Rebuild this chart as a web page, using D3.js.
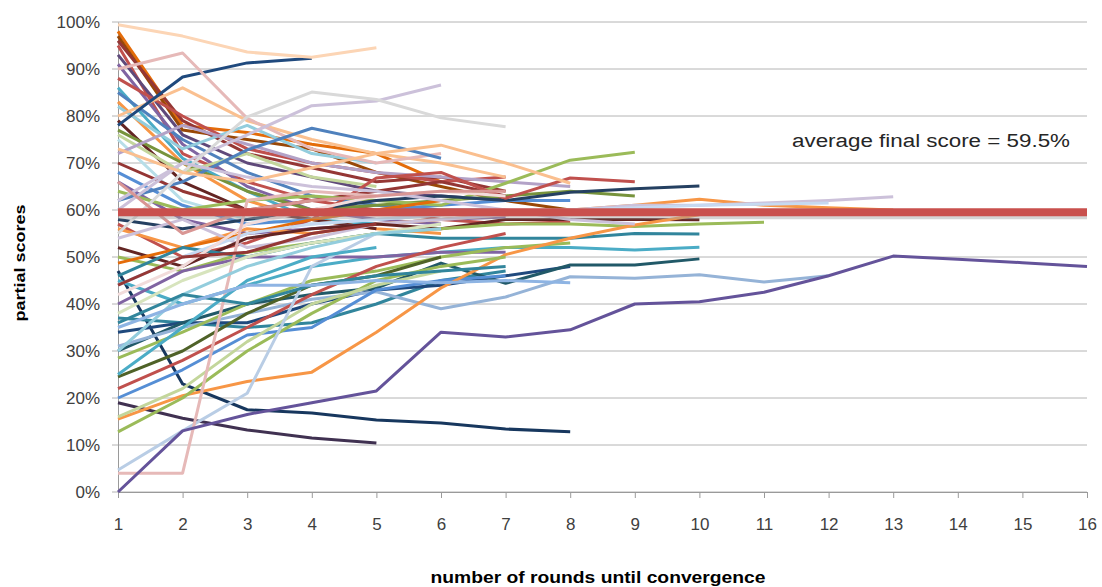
<!DOCTYPE html>
<html>
<head>
<meta charset="utf-8">
<script src="https://cdn.jsdelivr.net/npm/d3@7"></script>
<style>
  body { margin: 0; background: #fff; }
  text { font-family: "Liberation Sans", Arial, sans-serif; }
</style>
</head>
<body>
<svg id="chart" width="1102" height="587"></svg>
<script>
// round numbers on the x axis
const roundLabels = [1, 2, 3, 4, 5, 6, 7, 8, 9, 10, 11, 12, 13, 14, 15, 16];
const yTicks = [0, 10, 20, 30, 40, 50, 60, 70, 80, 90, 100];
const averageFinal = 59.5;

// partial score (%) of each run, one value per round until it converged
const runs = [
  [98, 78, 76.5, 74, 72, 66],
  [97, 77, 75, 73, 68, 65, 62, 60],
  [96, 79, 72, 69, 66, 67, 64],
  [95, 72, 66, 62, 60, 58, 57, 57.5],
  [93, 76, 70, 67, 64, 63, 62],
  [91, 74, 65, 60, 58, 57],
  [88, 80, 73, 70, 68, 66, 67],
  [86, 71, 64, 58, 57],
  [85, 75, 68, 63, 61, 60, 60],
  [83, 70, 62, 58, 56, 55],
  [82, 73, 78, 72, 70],
  [80, 86, 79, 75, 72, 70, 67],
  [79, 66, 60, 58, 56],
  [78, 88.3, 91.3, 92.3],
  [77, 70, 64, 60, 61, 62, 63, 64, 63],
  [76, 68, 72, 67, 65],
  [75, 62, 58, 57, 58, 59],
  [90, 93.4, 79.5, 73, 70, 72],
  [99.4, 97, 93.6, 92.5, 94.5],
  [72, 78, 74, 70, 68, 67, 66, 65],
  [70, 64, 60, 62, 64, 66, 63],
  [68, 61, 57, 58, 60, 61, 62, 62],
  [66, 58, 55, 56, 57, 58, 58.5],
  [64, 60, 62, 63, 62, 61, 65.7, 70.6, 72.3],
  [62, 66, 72.8, 77.4, 74.5, 71],
  [60, 70, 76, 82.2, 83.2, 86.6],
  [58, 56, 58, 60, 62, 63, 62, 63.8, 64.5, 65.1],
  [57, 50, 53, 58, 66.8, 68, 62.5, 66.8, 66],
  [56, 52, 56, 55, 57, 58, 59, 60, 61, 62.3, 61, 60.5, 60],
  [55, 68, 79.8, 85.1, 83.5, 79.6, 77.7],
  [54, 58, 52, 54, 57, 58, 59, 60, 61, 61, 61.5, 62, 62.8],
  [52, 48, 54, 56, 57, 56, 58, 58, 58, 57.9],
  [50, 47, 51, 53, 55, 56, 57, 57, 56.5, 57, 57.4],
  [48.7, 52, 55, 58, 60, 62],
  [47, 23, 17.5, 16.8, 15.3, 14.7, 13.4, 12.8],
  [46, 52, 50, 53, 55, 54, 54, 54, 55, 54.9],
  [45, 40, 44, 48, 50, 51, 52, 52, 51.5, 52.1],
  [44, 50, 55, 57, 58, 59, 60, 60, 60.5, 61, 61.2, 61.5],
  [42, 48, 57, 60, 63, 64, 63],
  [40, 47, 50, 50, 50, 51, 51],
  [38, 45, 50, 53, 55, 57],
  [37, 36, 35, 36, 40, 45, 47],
  [34, 36, 36, 40, 43, 44, 46, 48],
  [30, 36, 40, 42, 43.4, 48.7, 44.4, 48.3, 48.3, 49.6],
  [31, 35, 38, 41, 42.6, 39, 41.5, 45.8, 45.5, 46.2, 44.7, 46],
  [28.5, 34, 40, 45, 47, 50, 52, 53],
  [24.5, 30, 38, 44, 46, 50],
  [22, 28, 35, 42, 48, 52, 55],
  [19, 15.7, 13.2, 11.5, 10.4],
  [20, 26, 33.4, 35, 43, 45, 46],
  [15.5, 20.5, 23.5, 25.5, 34, 43.4, 50.5, 54, 56.8, 59],
  [12.8, 20, 30, 38, 45, 48, 50],
  [16, 22, 32, 40, 44, 47],
  [4.7, 13, 21, 48, 55],
  [4, 4, 62, 64, 63],
  [0, 13, 16.5, 19, 21.5, 34, 33, 34.5, 40, 40.5, 42.5, 46, 50.2, 49.5, 48.8, 48],
  [25, 35, 45, 50, 52],
  [30, 42, 48, 52, 55, 56],
  [36, 42, 40, 44, 46, 47, 48],
  [44, 50, 51, 55, 57],
  [62, 70, 67, 65, 64, 62, 60, 58, 57],
  [35, 40, 44, 44, 45, 44.5, 45, 44.5],
  [73, 68, 66, 69, 72, 73.8, 70, 65.7],
  [66, 55, 60, 62, 63, 64, 64]
];

const runColors = [
  "#e46c0a", "#984807", "#953735", "#c0504d", "#5f497a", "#8064a2", "#c0504d", "#4bacc6",
  "#4f81bd", "#f79646", "#93cddd", "#fac090", "#632523", "#1f497d", "#77933c", "#c3d69b",
  "#b7dee8", "#e6b9b8", "#fcd5b5", "#b3a2c7", "#943634", "#558ed5", "#8064a2", "#9bbb59",
  "#4f81bd", "#ccc1da", "#254061", "#c0504d", "#f79646", "#d9d9d9", "#ccc1da", "#632523",
  "#9bbb59", "#e46c0a", "#17375e", "#31859c", "#4bacc6", "#c6d9f1", "#f2dcdb", "#8064a2",
  "#d7e4bd", "#31859c", "#1f497d", "#215968", "#95b3d7", "#9bbb59", "#4f6228", "#c0504d",
  "#403151", "#558ed5", "#f79646", "#9bbb59", "#c3d69b", "#b9cde5", "#e6b9b8", "#64539a",
  "#4bacc6", "#93cddd", "#31859c", "#953735", "#ccc1da", "#8eb4e3", "#fabf8f", "#d99694"
];

const svg = d3.select("#chart");

const x = d3.scalePoint().domain(roundLabels).range([118, 1087]);
const y = d3.scaleLinear().domain([0, 100]).range([492, 22]);

// horizontal gridlines
svg.append("g")
  .selectAll("line")
  .data(yTicks)
  .enter()
  .append("line")
  .attr("x1", 112)
  .attr("x2", 1087)
  .attr("y1", d => y(d))
  .attr("y2", d => y(d))
  .attr("stroke", "#b4b4b4")
  .attr("stroke-width", 1);

// y axis
const yAxis = svg.append("g")
  .attr("transform", "translate(118,0)")
  .call(d3.axisLeft(y).tickValues(yTicks).tickFormat(d => d + "%").tickSize(0).tickPadding(18));
yAxis.select(".domain").attr("stroke", "#9a9a9a");
yAxis.selectAll("text")
  .style("font-family", "Liberation Sans, Arial, sans-serif")
  .style("font-size", "17px")
  .attr("fill", "#404040");

// x axis
const xAxis = svg.append("g")
  .attr("transform", "translate(0,492)")
  .call(d3.axisBottom(x).tickSize(6).tickPadding(20));
xAxis.select(".domain").attr("stroke", "#9a9a9a");
xAxis.selectAll(".tick line").attr("stroke", "#9a9a9a");
xAxis.selectAll("text")
  .style("font-family", "Liberation Sans, Arial, sans-serif")
  .style("font-size", "17px")
  .attr("fill", "#404040");

// one line per run
const line = d3.line()
  .x((d, i) => x(roundLabels[i]))
  .y(d => y(d));

svg.append("g")
  .selectAll("path")
  .data(runs)
  .enter()
  .append("path")
  .attr("d", d => line(d))
  .attr("fill", "none")
  .attr("stroke", (d, i) => runColors[i % runColors.length])
  .attr("stroke-width", 3)
  .attr("stroke-linejoin", "round");

// average final score
const avgRow = roundLabels.map(() => averageFinal);
svg.append("path")
  .attr("d", line(avgRow))
  .attr("transform", "translate(0,3)")
  .attr("fill", "none")
  .attr("stroke", "#a0a0a0")
  .attr("stroke-opacity", 0.45)
  .attr("stroke-width", 8);
svg.append("path")
  .attr("d", line(avgRow))
  .attr("fill", "none")
  .attr("stroke", "#c9504d")
  .attr("stroke-width", 8);

svg.append("text")
  .attr("x", 792)
  .attr("y", 147)
  .attr("textLength", 278)
  .attr("lengthAdjust", "spacingAndGlyphs")
  .style("font-size", "18px")
  .attr("fill", "#262626")
  .text("average final score = " + averageFinal + "%");

// axis titles
svg.append("text")
  .attr("x", 598)
  .attr("y", 583)
  .attr("text-anchor", "middle")
  .attr("textLength", 335)
  .attr("lengthAdjust", "spacingAndGlyphs")
  .style("font-size", "16px")
  .style("font-weight", "bold")
  .attr("fill", "#000")
  .text("number of rounds until convergence");

svg.append("text")
  .attr("transform", "translate(25,263)rotate(-90)")
  .attr("text-anchor", "middle")
  .attr("textLength", 117)
  .attr("lengthAdjust", "spacingAndGlyphs")
  .style("font-size", "15px")
  .style("font-weight", "bold")
  .attr("fill", "#000")
  .text("partial scores");
</script>
</body>
</html>
